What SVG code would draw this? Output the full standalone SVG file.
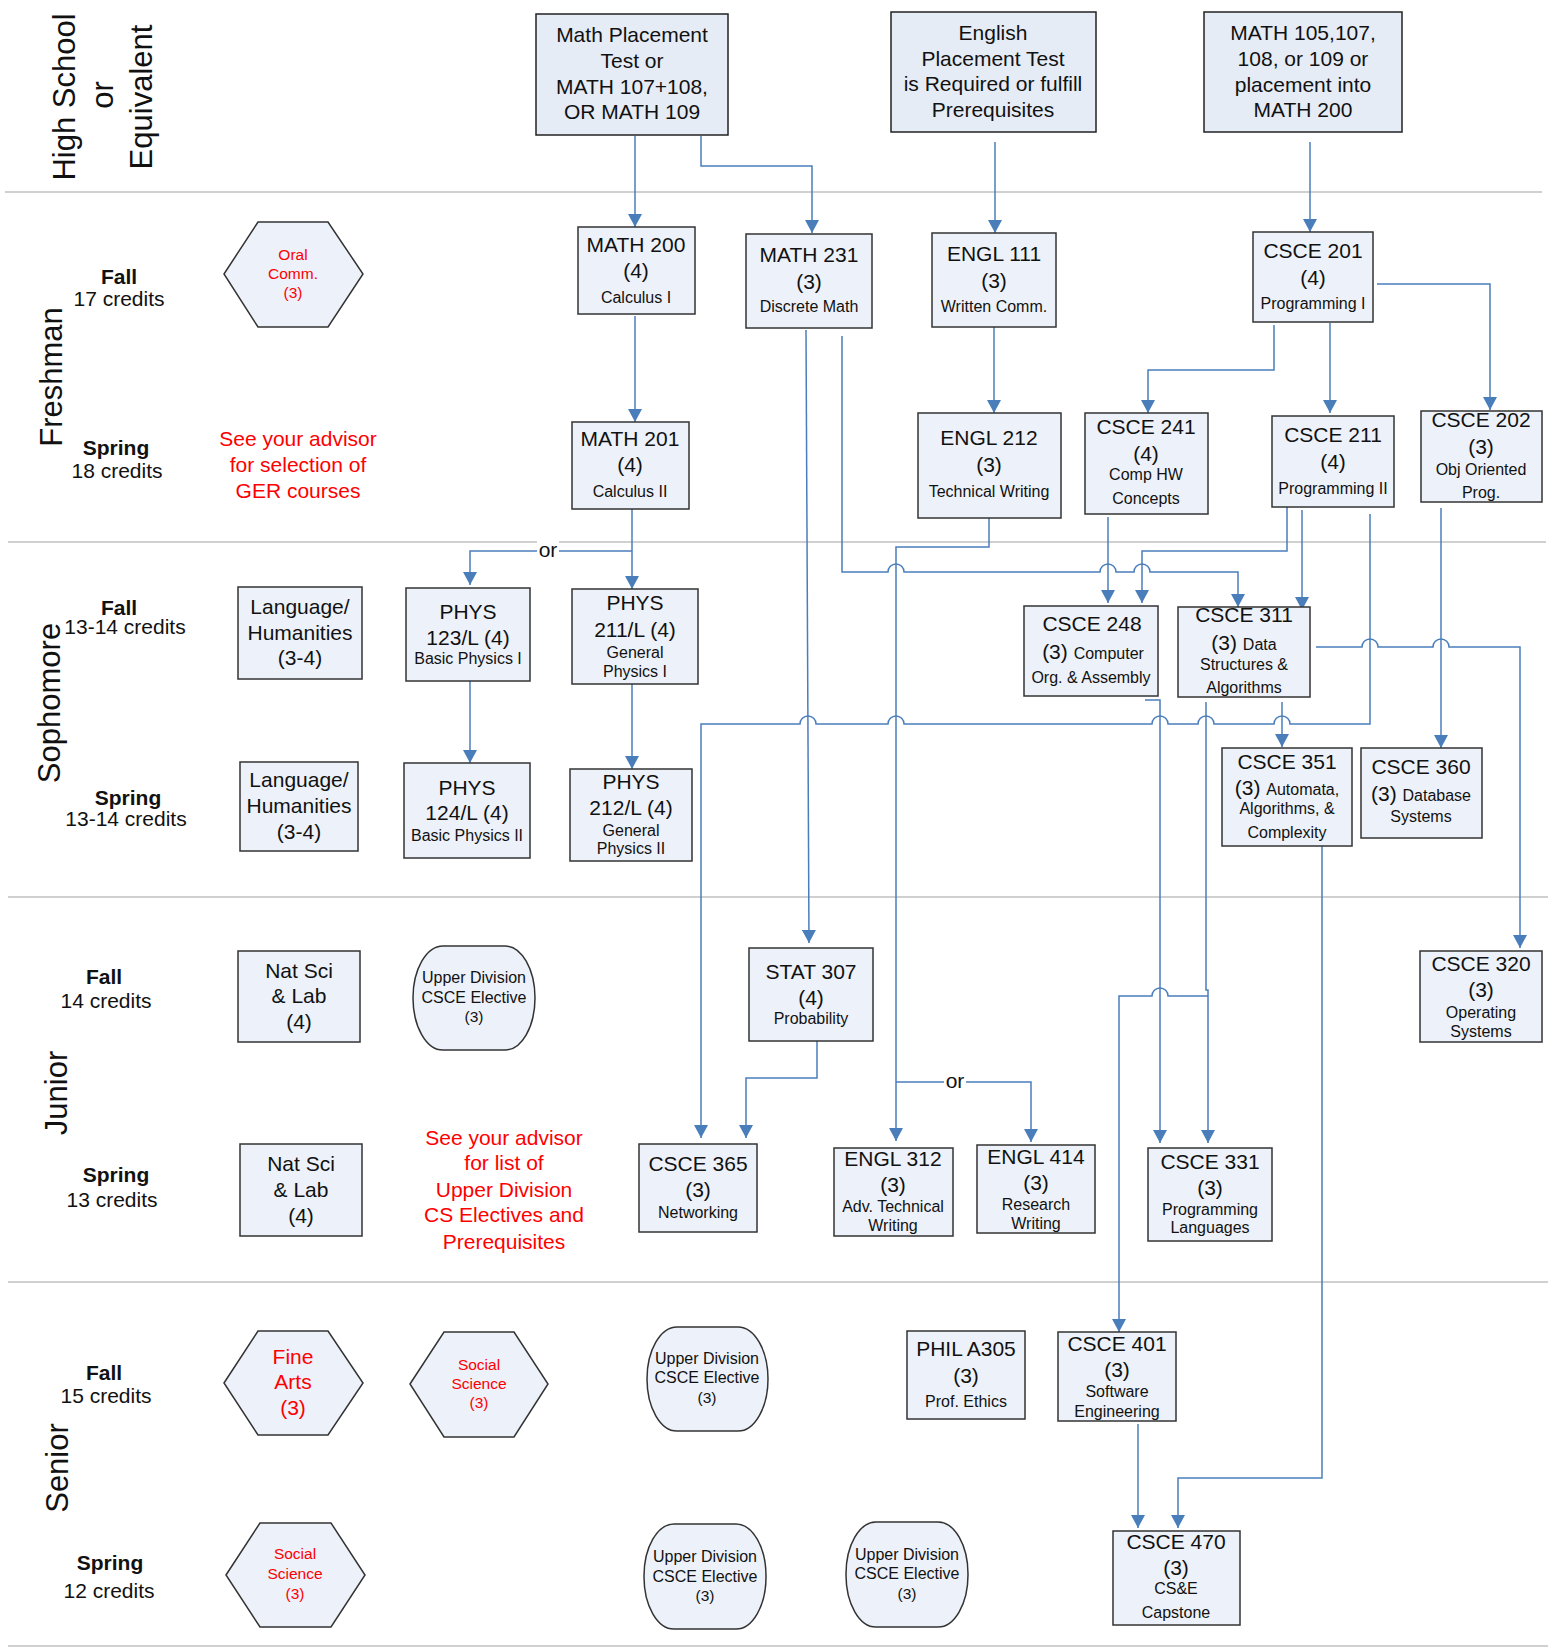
<svg xmlns="http://www.w3.org/2000/svg" width="1551" height="1649" viewBox="0 0 1551 1649">
<defs>
<marker id="ah" markerUnits="userSpaceOnUse" markerWidth="14" markerHeight="14" refX="13" refY="7" orient="auto">
<path d="M0,0 L13,7 L0,14 z" fill="#4a7ebb"/>
</marker>
</defs>
<style>
.box{fill:#edf1f9;stroke:#333;stroke-width:1.5}
.top{fill:#e6ecf6;stroke:#222;stroke-width:1.5}
.t{font-family:"Liberation Sans",Arial,sans-serif;font-size:21px;fill:#111;text-anchor:middle}
.s{font-size:16px}
.h{font-size:15.5px}
.r{fill:#ff0000}
.b{font-weight:bold}
.y{font-size:31px}
.c{fill:none;stroke:#4a7ebb;stroke-width:1.5;marker-end:url(#ah)}
.sep{stroke:#d0d0d0;stroke-width:2}
</style>
<rect width="1551" height="1649" fill="#fff"/>
<g id="separators">
<line class="sep" x1="5" y1="192" x2="1542" y2="192"/>
<line class="sep" x1="8" y1="542" x2="1546" y2="542"/>
<line class="sep" x1="8" y1="897" x2="1548" y2="897"/>
<line class="sep" x1="8" y1="1282" x2="1548" y2="1282"/>
<line class="sep" x1="8" y1="1646" x2="1548" y2="1646" stroke-width="3"/>
</g>
<g id="year-labels" class="t y">
<text class="t y" transform="translate(75,97) rotate(-90)">High School</text>
<text class="t y" transform="translate(113,95) rotate(-90)">or</text>
<text class="t y" transform="translate(152,97) rotate(-90)">Equivalent</text>
<text class="t y" transform="translate(62,377) rotate(-90)">Freshman</text>
<text class="t y" transform="translate(60,703) rotate(-90)">Sophomore</text>
<text class="t y" transform="translate(67,1093) rotate(-90)">Junior</text>
<text class="t y" transform="translate(68,1468) rotate(-90)">Senior</text>
</g>
<g id="term-labels">
<text class="t b" x="119" y="284">Fall</text><text class="t" x="119" y="306">17 credits</text>
<text class="t b" x="116" y="455">Spring</text><text class="t" x="117" y="478">18 credits</text>
<text class="t b" x="119" y="615">Fall</text><text class="t" x="125" y="634">13-14 credits</text>
<text class="t b" x="128" y="805">Spring</text><text class="t" x="126" y="826">13-14 credits</text>
<text class="t b" x="104" y="984">Fall</text><text class="t" x="106" y="1008">14 credits</text>
<text class="t b" x="116" y="1182">Spring</text><text class="t" x="112" y="1207">13 credits</text>
<text class="t b" x="104" y="1380">Fall</text><text class="t" x="106" y="1403">15 credits</text>
<text class="t b" x="110" y="1570">Spring</text><text class="t" x="109" y="1598">12 credits</text>
</g>
<g id="notes">
<text class="t r" x="298" y="446">See your advisor</text>
<text class="t r" x="298" y="472">for selection of</text>
<text class="t r" x="298" y="498">GER courses</text>
<text class="t r" x="504" y="1145">See your advisor</text>
<text class="t r" x="504" y="1170">for list of</text>
<text class="t r" x="504" y="1197">Upper Division</text>
<text class="t r" x="504" y="1222">CS Electives and</text>
<text class="t r" x="504" y="1249">Prerequisites</text>
</g>
<g id="connectors">
<path class="c" d="M635,136 V227"/>
<path class="c" d="M701,136 V166 H812 V233"/>
<path class="c" d="M995,142 V233"/>
<path class="c" d="M1310,142 V232"/>
<path class="c" d="M635,316 V422"/>
<path class="c" d="M806,330 L809,943"/>
<path class="c" d="M842,336 V572 H888 A8,8 0 0 1 904,572 H1100 A8,8 0 0 1 1116,572 H1134 A8,8 0 0 1 1150,572 H1238 V607"/>
<path class="c" d="M994,326 V413"/>
<path class="c" d="M989,518 V547 H896 V1141"/>
<path class="c" d="M896,1082 H1031 V1142"/>
<path class="c" d="M1377,284 H1490 V410"/>
<path class="c" d="M1274,325 V370 H1148 V413"/>
<path class="c" d="M1330,323 V413"/>
<path class="c" d="M632,509 V589"/>
<path class="c" d="M632,551 H470 V585"/>
<path class="c" d="M470,681 V763"/>
<path class="c" d="M632,684 V769"/>
<path class="c" d="M1108,517 V603"/>
<path class="c" d="M1287,507 V551 H1142 V603"/>
<path class="c" d="M1302,510 V610"/>
<path class="c" d="M1370,514 V724 H1290 A8,8 0 0 0 1274,724 H1214 A8,8 0 0 0 1198,724 H1168 A8,8 0 0 0 1152,724 H904 A8,8 0 0 0 888,724 H816 A8,8 0 0 0 800,724 H701 V1138"/>
<path class="c" d="M1441,508 V748"/>
<path class="c" d="M1316,647 H1362 A8,8 0 0 1 1378,647 H1433 A8,8 0 0 1 1449,647 H1520 V948"/>
<path class="c" d="M1282,702 V747"/>
<path class="c" d="M1145,700 H1160 V1143"/>
<path class="c" d="M1206,702 V990 H1208 V1143"/>
<path class="c" d="M1208,996 H1168 A8,8 0 0 0 1152,996 H1119 V1332"/>
<path class="c" d="M817,1041 V1078 H746 V1138"/>
<path class="c" d="M1322,846 V1478 H1178 V1528"/>
<path class="c" d="M1138,1424 V1528"/>
<rect x="537" y="540" width="22" height="22" fill="#fff"/>
<text class="t" x="548" y="557">or</text>
<rect x="944" y="1071" width="22" height="22" fill="#fff"/>
<text class="t" x="955" y="1088">or</text>
</g>
<g id="math-placement"><rect class="top" x="536" y="14" width="192" height="121"/>
<text class="t" x="632" y="42">Math Placement</text><text class="t" x="632" y="68">Test or</text><text class="t" x="632" y="94">MATH 107+108,</text><text class="t" x="632" y="119">OR MATH 109</text></g>
<g id="english-placement"><rect class="top" x="891" y="12" width="205" height="120"/>
<text class="t" x="993" y="40">English</text><text class="t" x="993" y="66">Placement Test</text><text class="t" x="993" y="91">is Required or fulfill</text><text class="t" x="993" y="117">Prerequisites</text></g>
<g id="math105"><rect class="top" x="1204" y="12" width="198" height="120"/>
<text class="t" x="1303" y="40">MATH 105,107,</text><text class="t" x="1303" y="66">108, or 109 or</text><text class="t" x="1303" y="92">placement into</text><text class="t" x="1303" y="117">MATH 200</text></g>
<g id="oral-comm"><polygon class="box" points="224,274 258,222 328,222 363,274 328,327 258,327"/>
<text class="t h r" x="293" y="260">Oral</text><text class="t h r" x="293" y="279">Comm.</text><text class="t h r" x="293" y="298">(3)</text></g>
<g id="math200"><rect class="box" x="578" y="227" width="117" height="87"/>
<text class="t" x="636" y="252">MATH 200</text><text class="t" x="636" y="278">(4)</text><text class="t s" x="636" y="303">Calculus I</text></g>
<g id="math231"><rect class="box" x="746" y="234" width="126" height="94"/>
<text class="t" x="809" y="262">MATH 231</text><text class="t" x="809" y="289">(3)</text><text class="t s" x="809" y="312">Discrete Math</text></g>
<g id="engl111"><rect class="box" x="932" y="233" width="124" height="94"/>
<text class="t" x="994" y="261">ENGL 111</text><text class="t" x="994" y="288">(3)</text><text class="t s" x="994" y="312">Written Comm.</text></g>
<g id="csce201"><rect class="box" x="1253" y="232" width="120" height="90"/>
<text class="t" x="1313" y="258">CSCE 201</text><text class="t" x="1313" y="285">(4)</text><text class="t s" x="1313" y="309">Programming I</text></g>
<g id="math201"><rect class="box" x="572" y="422" width="117" height="87"/>
<text class="t" x="630" y="446">MATH 201</text><text class="t" x="630" y="472">(4)</text><text class="t s" x="630" y="497">Calculus II</text></g>
<g id="engl212"><rect class="box" x="918" y="413" width="143" height="105"/>
<text class="t" x="989" y="445">ENGL 212</text><text class="t" x="989" y="472">(3)</text><text class="t s" x="989" y="497">Technical Writing</text></g>
<g id="csce241"><rect class="box" x="1085" y="413" width="123" height="101"/>
<text class="t" x="1146" y="434">CSCE 241</text><text class="t" x="1146" y="461">(4)</text><text class="t s" x="1146" y="480">Comp HW</text><text class="t s" x="1146" y="504">Concepts</text></g>
<g id="csce211"><rect class="box" x="1272" y="416" width="122" height="91"/>
<text class="t" x="1333" y="442">CSCE 211</text><text class="t" x="1333" y="469">(4)</text><text class="t s" x="1333" y="494">Programming II</text></g>
<g id="csce202"><rect class="box" x="1421" y="411" width="121" height="91"/>
<text class="t" x="1481" y="427">CSCE 202</text><text class="t" x="1481" y="454">(3)</text><text class="t s" x="1481" y="475">Obj Oriented</text><text class="t s" x="1481" y="498">Prog.</text></g>
<g id="lang-hum-fall"><rect class="box" x="238" y="587" width="124" height="92"/>
<text class="t" x="300" y="614">Language/</text><text class="t" x="300" y="640">Humanities</text><text class="t" x="300" y="665">(3-4)</text></g>
<g id="phys123"><rect class="box" x="406" y="588" width="124" height="93"/>
<text class="t" x="468" y="619">PHYS</text><text class="t" x="468" y="645">123/L (4)</text><text class="t s" x="468" y="664">Basic Physics I</text></g>
<g id="phys211"><rect class="box" x="572" y="589" width="126" height="95"/>
<text class="t" x="635" y="610">PHYS</text><text class="t" x="635" y="637">211/L (4)</text><text class="t s" x="635" y="658">General</text><text class="t s" x="635" y="677">Physics I</text></g>
<g id="csce248"><rect class="box" x="1024" y="606" width="134" height="90"/>
<text class="t" x="1092" y="631">CSCE 248</text><text class="t" x="1093" y="659">(3) <tspan class="s">Computer</tspan></text><text class="t s" x="1091" y="683">Org. &amp; Assembly</text></g>
<g id="csce311"><rect class="box" x="1178" y="607" width="132" height="90"/>
<text class="t" x="1244" y="622">CSCE 311</text><text class="t" x="1244" y="650">(3) <tspan class="s">Data</tspan></text><text class="t s" x="1244" y="670">Structures &amp;</text><text class="t s" x="1244" y="693">Algorithms</text></g>
<g id="lang-hum-spring"><rect class="box" x="240" y="762" width="118" height="89"/>
<text class="t" x="299" y="787">Language/</text><text class="t" x="299" y="813">Humanities</text><text class="t" x="299" y="839">(3-4)</text></g>
<g id="phys124"><rect class="box" x="404" y="763" width="126" height="95"/>
<text class="t" x="467" y="795">PHYS</text><text class="t" x="467" y="820">124/L (4)</text><text class="t s" x="467" y="841">Basic Physics II</text></g>
<g id="phys212"><rect class="box" x="570" y="769" width="122" height="92"/>
<text class="t" x="631" y="789">PHYS</text><text class="t" x="631" y="815">212/L (4)</text><text class="t s" x="631" y="836">General</text><text class="t s" x="631" y="854">Physics II</text></g>
<g id="csce351"><rect class="box" x="1222" y="748" width="130" height="98"/>
<text class="t" x="1287" y="769">CSCE 351</text><text class="t" x="1287" y="795">(3) <tspan class="s">Automata,</tspan></text><text class="t s" x="1287" y="814">Algorithms, &amp;</text><text class="t s" x="1287" y="838">Complexity</text></g>
<g id="csce360"><rect class="box" x="1361" y="748" width="121" height="90"/>
<text class="t" x="1421" y="774">CSCE 360</text><text class="t" x="1421" y="801">(3) <tspan class="s">Database</tspan></text><text class="t s" x="1421" y="822">Systems</text></g>
<g id="natsci-fall"><rect class="box" x="238" y="951" width="122" height="91"/>
<text class="t" x="299" y="978">Nat Sci</text><text class="t" x="299" y="1003">&amp; Lab</text><text class="t" x="299" y="1029">(4)</text></g>
<g id="ud-elective-jr"><rect class="box" x="413" y="946" width="122" height="104" rx="30" ry="52"/>
<text class="t s" x="474" y="983">Upper Division</text><text class="t s" x="474" y="1003">CSCE Elective</text><text class="t h" x="474" y="1022">(3)</text></g>
<g id="stat307"><rect class="box" x="749" y="948" width="124" height="93"/>
<text class="t" x="811" y="979">STAT 307</text><text class="t" x="811" y="1005">(4)</text><text class="t s" x="811" y="1024">Probability</text></g>
<g id="csce320"><rect class="box" x="1420" y="951" width="122" height="91"/>
<text class="t" x="1481" y="971">CSCE 320</text><text class="t" x="1481" y="997">(3)</text><text class="t s" x="1481" y="1018">Operating</text><text class="t s" x="1481" y="1037">Systems</text></g>
<g id="natsci-spring"><rect class="box" x="240" y="1144" width="122" height="92"/>
<text class="t" x="301" y="1171">Nat Sci</text><text class="t" x="301" y="1197">&amp; Lab</text><text class="t" x="301" y="1223">(4)</text></g>
<g id="csce365"><rect class="box" x="639" y="1144" width="118" height="88"/>
<text class="t" x="698" y="1171">CSCE 365</text><text class="t" x="698" y="1197">(3)</text><text class="t s" x="698" y="1218">Networking</text></g>
<g id="engl312"><rect class="box" x="834" y="1148" width="119" height="88"/>
<text class="t" x="893" y="1166">ENGL 312</text><text class="t" x="893" y="1192">(3)</text><text class="t s" x="893" y="1212">Adv. Technical</text><text class="t s" x="893" y="1231">Writing</text></g>
<g id="engl414"><rect class="box" x="977" y="1145" width="118" height="88"/>
<text class="t" x="1036" y="1164">ENGL 414</text><text class="t" x="1036" y="1190">(3)</text><text class="t s" x="1036" y="1210">Research</text><text class="t s" x="1036" y="1229">Writing</text></g>
<g id="csce331"><rect class="box" x="1148" y="1148" width="124" height="93"/>
<text class="t" x="1210" y="1169">CSCE 331</text><text class="t" x="1210" y="1195">(3)</text><text class="t s" x="1210" y="1215">Programming</text><text class="t s" x="1210" y="1233">Languages</text></g>
<g id="fine-arts"><polygon class="box" points="224,1383 258,1331 328,1331 363,1383 328,1435 258,1435"/>
<text class="t r" x="293" y="1364">Fine</text><text class="t r" x="293" y="1389">Arts</text><text class="t r" x="293" y="1415">(3)</text></g>
<g id="social-science-fall"><polygon class="box" points="410,1384 444,1332 514,1332 548,1384 514,1437 444,1437"/>
<text class="t h r" x="479" y="1370">Social</text><text class="t h r" x="479" y="1389">Science</text><text class="t h r" x="479" y="1408">(3)</text></g>
<g id="ud-elective-sr-fall"><rect class="box" x="647" y="1327" width="121" height="104" rx="30" ry="52"/>
<text class="t s" x="707" y="1364">Upper Division</text><text class="t s" x="707" y="1383">CSCE Elective</text><text class="t h" x="707" y="1403">(3)</text></g>
<g id="phil305"><rect class="box" x="907" y="1331" width="118" height="88"/>
<text class="t" x="966" y="1356">PHIL A305</text><text class="t" x="966" y="1383">(3)</text><text class="t s" x="966" y="1407">Prof. Ethics</text></g>
<g id="csce401"><rect class="box" x="1058" y="1332" width="118" height="89"/>
<text class="t" x="1117" y="1351">CSCE 401</text><text class="t" x="1117" y="1377">(3)</text><text class="t s" x="1117" y="1397">Software</text><text class="t s" x="1117" y="1417">Engineering</text></g>
<g id="social-science-spring"><polygon class="box" points="226,1575 260,1523 331,1523 365,1575 331,1627 260,1627"/>
<text class="t h r" x="295" y="1559">Social</text><text class="t h r" x="295" y="1579">Science</text><text class="t h r" x="295" y="1599">(3)</text></g>
<g id="ud-elective-sr-spring1"><rect class="box" x="644" y="1524" width="122" height="105" rx="30" ry="52"/>
<text class="t s" x="705" y="1562">Upper Division</text><text class="t s" x="705" y="1582">CSCE Elective</text><text class="t h" x="705" y="1601">(3)</text></g>
<g id="ud-elective-sr-spring2"><rect class="box" x="846" y="1522" width="122" height="105" rx="30" ry="52"/>
<text class="t s" x="907" y="1560">Upper Division</text><text class="t s" x="907" y="1579">CSCE Elective</text><text class="t h" x="907" y="1599">(3)</text></g>
<g id="csce470"><rect class="box" x="1113" y="1531" width="127" height="94"/>
<text class="t" x="1176" y="1549">CSCE 470</text><text class="t" x="1176" y="1575">(3)</text><text class="t s" x="1176" y="1594">CS&amp;E</text><text class="t s" x="1176" y="1618">Capstone</text></g>
</svg>
